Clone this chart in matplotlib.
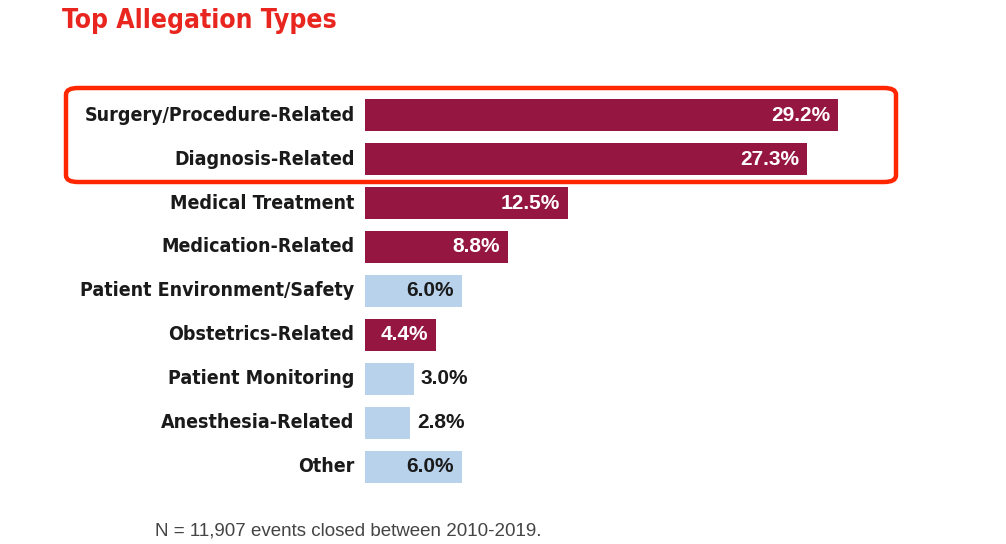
import matplotlib
matplotlib.use("Agg")
import matplotlib.pyplot as plt
from matplotlib import font_manager
from matplotlib.patches import FancyBboxPatch

# --- data ---
categories = ["Surgery/Procedure-Related", "Diagnosis-Related", "Medical Treatment",
              "Medication-Related", "Patient Environment/Safety", "Obstetrics-Related",
              "Patient Monitoring", "Anesthesia-Related", "Other"]
values = [29.2, 27.3, 12.5, 8.8, 6.0, 4.4, 3.0, 2.8, 6.0]
highlight = [True, True, True, True, False, True, False, False, False]
title = "Top Allegation Types"
note = "N = 11,907 events closed between 2010-2019."

dark = "#951641"
light = "#b8d2ec"
red = "#e8251f"

names = {f.name for f in font_manager.fontManager.ttflist}
narrow = "Liberation Sans Narrow" if "Liberation Sans Narrow" in names else "DejaVu Sans"
plain = "Liberation Sans"

W, H = 1006, 544
fig = plt.figure(figsize=(W / 100, H / 100), dpi=100)

# axes placed in pixels: bars start at x=365, rows 44px apart
left, right, top, bottom = 365, 900, 93, 489
ax = fig.add_axes([left / W, 1 - bottom / H, (right - left) / W, (bottom - top) / H])
ax.set_xlim(0, (right - left) / 16.2)
ax.set_ylim(len(categories) - 0.5, -0.5)
ax.axis("off")

ys = range(len(categories))
colors = [dark if h else light for h in highlight]
ax.barh(ys, values, height=0.73, color=colors)

for y, cat, v, h in zip(ys, categories, values, highlight):
    ax.annotate(cat, xy=(0, y), xycoords=("axes fraction", "data"),
                xytext=(-7.5, 0), textcoords="offset points",
                ha="right", va="center", fontsize=14, fontweight="bold",
                family=narrow, fontstretch="condensed", color="#1a1a1a")
    label = f"{v:.1f}%"
    if v >= 4:
        ax.annotate(label, xy=(v, y), xytext=(-5.8, 0), textcoords="offset points",
                    ha="right", va="center", fontsize=15, fontweight="bold",
                    family=plain, color="white" if h else "#1a1a1a")
    else:
        ax.annotate(label, xy=(v, y), xytext=(5, 0), textcoords="offset points",
                    ha="left", va="center", fontsize=15, fontweight="bold",
                    family=plain, color="#1a1a1a")

# red rounded frame around the top two rows
box = FancyBboxPatch((66 / W, 1 - 182 / H), (896 - 66) / W, (182 - 88) / H,
                     boxstyle="round,pad=0,rounding_size=0.012",
                     transform=fig.transFigure, fill=False,
                     edgecolor="#ff2600", linewidth=3.2)
fig.add_artist(box)

fig.text(62 / W, 1 - 21 / H, title, ha="left", va="center", fontsize=19,
         fontweight="bold", family=narrow, fontstretch="condensed", color=red)
fig.text(155 / W, 1 - 531 / H, note, ha="left", va="center", fontsize=13.5,
         family=plain, color="#444444")

fig.savefig("out.png", dpi=100)
